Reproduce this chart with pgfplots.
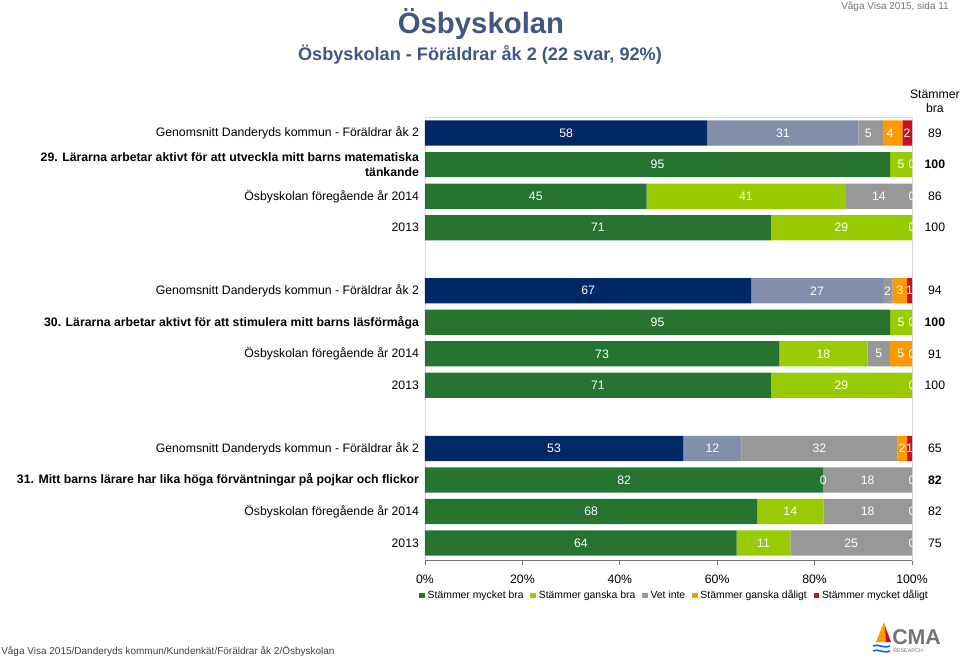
\documentclass[border=0pt]{standalone}
\usepackage{fontspec}
\setmainfont{Liberation Sans}
\usepackage{pgfplots}
\pgfplotsset{compat=1.18}
\usepackage{pgfplotstable}
\definecolor{dgreen}{RGB}{38,116,48}
\definecolor{lgreen}{RGB}{153,204,0}
\definecolor{navy}{RGB}{0,40,100}
\definecolor{slate}{RGB}{130,142,172}
\definecolor{vgray}{RGB}{152,152,152}
\definecolor{vorange}{RGB}{255,153,0}
\definecolor{vred}{RGB}{200,16,30}
\definecolor{titleblue}{RGB}{63,87,130}
\definecolor{borderg}{RGB}{217,217,217}

\pgfplotstableread{
row navy dg slate lg gray orange red
0 58 0 31 0 5 4 2
1 0 95.5 0 4.5 0 0 0
2 0 45.5 0 40.9 13.6 0 0
3 0 71 0 29 0 0 0
5 67 0 27 0 2 3 1
6 0 95.5 0 4.5 0 0 0
7 0 72.7 0 18.2 4.55 4.55 0
8 0 71 0 29 0 0 0
10 53 0 12 0 32 2 1
11 0 81.8 0 0 18.2 0 0
12 0 68.2 0 13.6 18.2 0 0
13 0 64 0 11 25 0 0
}\data

\pgfplotstableread{
x y lab
29 0 58
73.5 0 31
91 0 5
95.5 0 4
99 0 2
47.75 1 95
97.75 1 5
100 1 0
22.75 2 45
65.9 2 41
93.2 2 14
100 2 0
35.5 3 71
85.5 3 29
100 3 0
33.5 5 67
80.5 5 27
95 5 2
97.5 5 3
99.5 5 1
47.75 6 95
97.75 6 5
100 6 0
36.35 7 73
81.8 7 18
93.2 7 5
97.7 7 5
100 7 0
35.5 8 71
85.5 8 29
100 8 0
26.5 10 53
59 10 12
81 10 32
98 10 2
99.5 10 1
40.9 11 82
81.8 11 0
90.9 11 18
100 11 0
34.1 12 68
75 12 14
90.9 12 18
100 12 0
32 13 64
69.5 13 11
87.5 13 25
100 13 0
}\labels

\pgfplotstableread{
x y lab
104.7 0 89
104.7 2 86
104.7 3 100
104.7 5 94
104.7 7 91
104.7 8 100
104.7 10 65
104.7 12 82
104.7 13 75
}\totals

\pgfplotstableread{
x y lab
104.7 1 100
104.7 6 100
104.7 11 82
}\totalsbold

\begin{document}
\begin{tikzpicture}
\begin{scope}[x=0.75pt,y=-0.75pt]
\path[use as bounding box] (0,0) rectangle (960,660);
\node[font=\fontsize{22}{26}\selectfont\bfseries, text=titleblue] at (481,24) {Ösbyskolan};
\node[font=\fontsize{13.6}{16}\selectfont\bfseries, text=titleblue] at (480,55) {Ösbyskolan - Föräldrar åk 2 (22 svar, 92\%)};
\node[font=\fontsize{7.5}{9}\selectfont, text=black!55, anchor=east, inner sep=0pt] at (949,7) {Våga Visa 2015, sida 11};
\node[font=\fontsize{7.5}{9}\selectfont, text=black!75, anchor=west, inner sep=0pt] at (1,651) {Våga Visa 2015/Danderyds kommun/Kundenkät/Föräldrar åk 2/Ösbyskolan};
% logo
\fill[vorange] (884,622) -- (876,642) -- (889,642) -- cycle;
\fill[vred] (885,626) -- (891,642) -- (886,642) -- cycle;
\draw[blue!60!cyan, line width=1.2pt] (873,646) .. controls (878,643) and (883,649) .. (890,646);
\draw[blue!60!cyan, line width=1.2pt] (873,651) .. controls (878,648) and (883,654) .. (890,651);
\node[font=\fontsize{16}{18}\selectfont\bfseries, text=black!55, anchor=west, inner sep=0pt] at (892,637) {CMA};
\node[font=\fontsize{4}{5}\selectfont, text=black!55, anchor=west, inner sep=0pt] at (893,651) {RESEARCH};
\end{scope}

\begin{axis}[
  at={(318.75pt,-420pt)}, anchor=south west,
  scale only axis, width=365.25pt, height=332.25pt,
  xbar stacked, bar width=0.8,
  xmin=0, xmax=100, ymin=-0.51, ymax=13.54, y dir=reverse,
  axis line style={draw=borderg},
  xtick={0,20,...,100},
  xticklabel={\pgfmathprintnumber{\tick}\%},
  /pgf/number format/assume math mode=true,
  xtick pos=left, xtick align=outside,
  major tick length=4pt,
  xtick style={draw=black!55, line width=0.6pt},
  xticklabel style={font=\fontsize{9.2}{10}\selectfont, yshift=-3.5pt},
  ytick={0,1,2,3,5,6,7,8,10,11,12,13},
  yticklabels={
    {Genomsnitt Danderyds kommun - Föräldrar åk 2},
    {\textbf{29. Lärarna arbetar aktivt för att utveckla mitt barns matematiska}\\\textbf{tänkande}},
    {Ösbyskolan föregående år 2014},
    {2013},
    {Genomsnitt Danderyds kommun - Föräldrar åk 2},
    {\textbf{30. Lärarna arbetar aktivt för att stimulera mitt barns läsförmåga}},
    {Ösbyskolan föregående år 2014},
    {2013},
    {Genomsnitt Danderyds kommun - Föräldrar åk 2},
    {\textbf{31. Mitt barns lärare har lika höga förväntningar på pojkar och flickor}},
    {Ösbyskolan föregående år 2014},
    {2013}},
  ytick style={draw=none},
  yticklabel style={font=\fontsize{9.2}{11}\selectfont, align=right, xshift=-1pt},
]
\addplot[fill=navy, draw=none] table[x=navy, y=row] {\data};
\addplot[fill=dgreen, draw=none] table[x=dg, y=row] {\data};
\addplot[fill=slate, draw=none] table[x=slate, y=row] {\data};
\addplot[fill=lgreen, draw=none] table[x=lg, y=row] {\data};
\addplot[fill=vgray, draw=none] table[x=gray, y=row] {\data};
\addplot[fill=vorange, draw=none] table[x=orange, y=row] {\data};
\addplot[fill=vred, draw=none] table[x=red, y=row] {\data};
\draw[black!55, line width=0.6pt] (rel axis cs:0,0) -- (rel axis cs:1,0);
\end{axis}

\begin{axis}[
  at={(318.75pt,-420pt)}, anchor=south west,
  scale only axis, width=365.25pt, height=332.25pt,
  xmin=0, xmax=100, ymin=-0.51, ymax=13.54, y dir=reverse,
  hide axis, clip=false,
  legend style={at={(0.513,-0.08)}, anchor=center, draw=none, fill=none,
    legend columns=5, font=\fontsize{7.8}{9}\selectfont,
    /tikz/every even column/.append style={column sep=3pt},
    inner sep=0pt},
  legend image code/.code={\fill[#1] (0pt,-2.2pt) rectangle (4.4pt,2.2pt);},
]
\addplot[forget plot, draw=none, mark=none, nodes near coords, point meta=explicit symbolic,
  nodes near coords style={anchor=center, text=white, font=\fontsize{9.2}{10}\selectfont, inner sep=0pt}]
  table[x=x, y=y, meta=lab] {\labels};
\addplot[forget plot, draw=none, mark=none, nodes near coords, point meta=explicit symbolic,
  nodes near coords style={anchor=center, text=black, font=\fontsize{9.2}{10}\selectfont, inner sep=0pt}]
  table[x=x, y=y, meta=lab] {\totals};
\addplot[forget plot, draw=none, mark=none, nodes near coords, point meta=explicit symbolic,
  nodes near coords style={anchor=center, text=black, font=\fontsize{9.2}{10}\selectfont\bfseries, inner sep=0pt}]
  table[x=x, y=y, meta=lab] {\totalsbold};
\node[align=center, font=\fontsize{9.2}{10.5}\selectfont, inner sep=0pt] at (axis cs:104.7,-1.0) {Stämmer\\bra};
\addlegendimage{fill=dgreen, draw=none}
\addlegendentry{Stämmer mycket bra}
\addlegendimage{fill=lgreen, draw=none}
\addlegendentry{Stämmer ganska bra}
\addlegendimage{fill=vgray, draw=none}
\addlegendentry{Vet inte}
\addlegendimage{fill=vorange, draw=none}
\addlegendentry{Stämmer ganska dåligt}
\addlegendimage{fill=vred, draw=none}
\addlegendentry{Stämmer mycket dåligt}
\end{axis}
\end{tikzpicture}
\end{document}
